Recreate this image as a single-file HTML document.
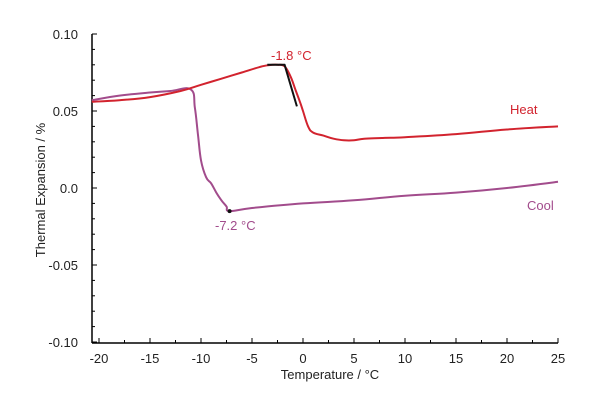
<!DOCTYPE html>
<html><head><meta charset="utf-8"><style>
body{margin:0;background:#fff}
svg{display:block;font-family:"Liberation Sans",sans-serif}
</style></head><body>
<svg id="chart" width="600" height="400"></svg>
<script>
const xTicks=[-20,-15,-10,-5,0,5,10,15,20,25];
const yTicks=[0.10,0.05,0.0,-0.05,-0.10];
const yTickLabels=["0.10","0.05","0.0","-0.05","-0.10"];
const heatX=[-20.7,-18,-15,-12,-10,-8,-6,-4,-3,-2.5,-1.8,-1.2,-0.7,-0.3,0,0.5,1,2,3,4,5,6,8,10,15,20,25];
const heatY=[0.056,0.057,0.059,0.063,0.067,0.071,0.075,0.079,0.080,0.080,0.079,0.072,0.063,0.056,0.050,0.040,0.036,0.034,0.032,0.031,0.031,0.032,0.0325,0.033,0.035,0.038,0.040];
const coolX=[25,20,15,10,5,0,-5,-7.2,-7.5,-8,-8.5,-9,-9.5,-10,-10.3,-10.6,-11,-13,-15,-18,-20.7];
const coolY=[0.004,0.0,-0.003,-0.005,-0.008,-0.010,-0.013,-0.015,-0.012,-0.008,-0.003,0.003,0.007,0.018,0.035,0.052,0.064,0.063,0.062,0.060,0.057];
const blackX=[-3.5,-1.8,-0.6];
const blackY=[0.080,0.080,0.053];
const L=92,R=558,T=34,B=343;
const sx=v=>303+v*10.2;
const sy=v=>188-v*1540;
const svg=document.getElementById('chart');
const NS='http://www.w3.org/2000/svg';
function mk(t,a){const e=document.createElementNS(NS,t);for(const k in a)e.setAttribute(k,a[k]);svg.appendChild(e);return e;}
let e;
e=mk('line',{x1:L,y1:T,x2:L,y2:B,stroke:'#000','stroke-width':1.5});


e=mk('line',{x1:L,y1:B,x2:R,y2:B,stroke:'#000','stroke-width':1.5});


xTicks.forEach((v,i)=>{
  mk('line',{x1:sx(v),y1:B,x2:sx(v),y2:B-5,stroke:'#000'});
  if(i<xTicks.length-1) mk('line',{x1:sx(v+2.5),y1:B,x2:sx(v+2.5),y2:B-3,stroke:'#000'});
  e=mk('text',{x:sx(v),y:B+20,'text-anchor':'middle','font-size':13,fill:'#222'});
  e.textContent=String(v);
  
  
});
yTicks.forEach((v,i)=>{
  mk('line',{x1:L,y1:sy(v),x2:L+5,y2:sy(v),stroke:'#000'});
  if(i<yTicks.length-1) for(let k=1;k<5;k++) mk('line',{x1:L,y1:sy(v-k*0.01),x2:L+3,y2:sy(v-k*0.01),stroke:'#000'});
  e=mk('text',{x:L-14,y:sy(v)+5,'text-anchor':'end','font-size':13,fill:'#222'});
  e.textContent=yTickLabels[i];
  
  
});
function line(xs,ys,c,w,n,smooth){
  const P=xs.map((x,i)=>[sx(x),sy(ys[i])]);
  let d='M'+P[0][0].toFixed(1)+','+P[0][1].toFixed(1);
  for(let i=0;i<P.length-1;i++){
    if(!smooth){d+='L'+P[i+1][0].toFixed(1)+','+P[i+1][1].toFixed(1);continue;}
    const p0=P[Math.max(0,i-1)],p1=P[i],p2=P[i+1],p3=P[Math.min(P.length-1,i+2)];
    const t=0.2;
    const c1=[p1[0]+(p2[0]-p0[0])*t,p1[1]+(p2[1]-p0[1])*t];
    const c2=[p2[0]-(p3[0]-p1[0])*t,p2[1]-(p3[1]-p1[1])*t];
    d+='C'+c1[0].toFixed(1)+','+c1[1].toFixed(1)+' '+c2[0].toFixed(1)+','+c2[1].toFixed(1)+' '+p2[0].toFixed(1)+','+p2[1].toFixed(1);
  }
  const p=mk('path',{d:d,fill:'none',stroke:c,'stroke-width':w,'stroke-linejoin':'round'});
  
  
}
line(coolX,coolY,'#a24c8c',2,'cool-series',true);
line(heatX,heatY,'#d2232e',2,'heat-series',true);
line(blackX,blackY,'#111',2,'heat-onset-tangent',false);
e=mk('circle',{cx:sx(-7.2),cy:sy(-0.015),r:2,fill:'#111'});


function txt(x,y,s,c,n,sz,anc,rot){
  const t=mk('text',{x:x,y:y,fill:c,'font-size':sz||13,'text-anchor':anc||'start'});
  if(rot)t.setAttribute('transform',rot);
  t.textContent=s;
  
  
}
txt(271,60,'-1.8 °C','#d2232e','heat-onset-label',13);
txt(215,230,'-7.2 °C','#a24c8c','cool-onset-label',13);
txt(510,114,'Heat','#d2232e','heat-label',13);
txt(527,210,'Cool','#a24c8c','cool-label',13);
txt(330,379,'Temperature / °C','#222','x-axis-title',13,'middle');
txt(0,0,'Thermal Expansion / %','#222','y-axis-title',13,'middle','translate(45,190) rotate(-90)');
</script>
</body></html>
